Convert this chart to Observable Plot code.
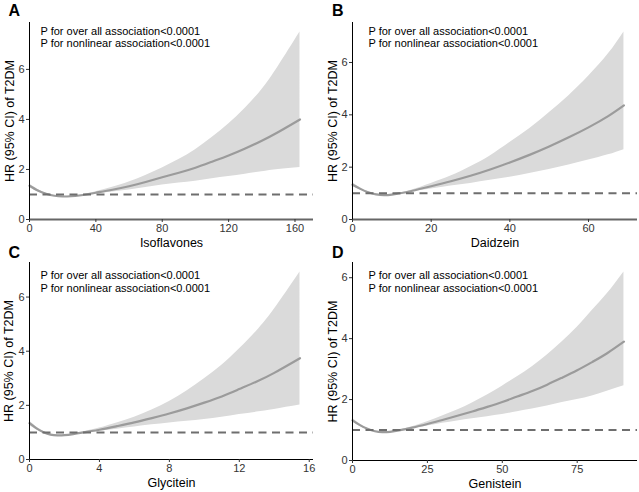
<!DOCTYPE html>
<html>
<head>
<meta charset="utf-8">
<script src="https://cdn.jsdelivr.net/npm/d3@7"></script>
<script src="https://cdn.jsdelivr.net/npm/@observablehq/plot@0.6"></script>
<style>
  html, body { margin: 0; padding: 0; background: #fff; }
  #fig { position: relative; width: 639px; height: 492px; background: #fff; overflow: hidden; }
  .panel { position: absolute; }
  .panel svg { overflow: visible; }
</style>
</head>
<body>
<div id="fig"></div>
<script>
// Restricted cubic spline estimates: HR of T2DM with 95% CI by intake

const yTitle = "HR (95% CI) of T2DM";
const pOverall = "P for over all association<0.0001";
const pNonlinear = "P for nonlinear association<0.0001";
const yTicks = [0, 2, 4, 6];

// A — Isoflavones
const isoX  = [0, 5, 10, 15, 20, 25, 30, 35, 40, 50, 60, 70, 80, 90, 100, 110, 120, 130, 140, 150, 163];
const isoHR = [1.35, 1.16, 1.03, 0.95, 0.92, 0.93, 0.96, 1.01, 1.07, 1.19, 1.33, 1.50, 1.69, 1.87, 2.07, 2.31, 2.56, 2.84, 3.15, 3.50, 4.00];
const isoLo = [1.28, 1.11, 1.01, 0.94, 0.91, 0.92, 0.95, 0.99, 1.03, 1.10, 1.18, 1.28, 1.38, 1.46, 1.53, 1.63, 1.72, 1.81, 1.91, 2.00, 2.08];
const isoHi = [1.42, 1.21, 1.05, 0.96, 0.93, 0.94, 0.97, 1.03, 1.11, 1.29, 1.50, 1.76, 2.06, 2.40, 2.79, 3.28, 3.82, 4.45, 5.19, 6.13, 7.50];
const isoTicks = [0, 40, 80, 120, 160];

// B — Daidzein
const daiX  = [0, 2, 4, 6, 8, 10, 12, 15, 20, 25, 30, 35, 40, 45, 50, 55, 60, 65, 69];
const daiHR = [1.33, 1.17, 1.04, 0.96, 0.93, 0.95, 1.00, 1.09, 1.27, 1.46, 1.67, 1.91, 2.18, 2.47, 2.79, 3.14, 3.52, 3.95, 4.36];
const daiLo = [1.27, 1.13, 1.02, 0.95, 0.92, 0.94, 0.99, 1.06, 1.17, 1.28, 1.38, 1.50, 1.61, 1.76, 1.91, 2.08, 2.27, 2.47, 2.67];
const daiHi = [1.40, 1.21, 1.06, 0.97, 0.94, 0.96, 1.01, 1.12, 1.38, 1.66, 2.02, 2.43, 2.94, 3.47, 4.08, 4.73, 5.47, 6.32, 7.17];
const daiTicks = [0, 20, 40, 60];

// C — Glycitein
const glyX  = [0, 0.4, 0.8, 1.2, 1.6, 2, 2.5, 3, 4, 5, 6, 7, 8, 9, 10, 11, 12, 13, 14, 15.47];
const glyHR = [1.34, 1.15, 1.01, 0.92, 0.89, 0.90, 0.94, 0.99, 1.10, 1.23, 1.37, 1.53, 1.70, 1.89, 2.10, 2.33, 2.60, 2.88, 3.20, 3.74];
const glyLo = [1.26, 1.10, 0.99, 0.91, 0.885, 0.895, 0.93, 0.97, 1.05, 1.12, 1.20, 1.28, 1.35, 1.41, 1.48, 1.56, 1.66, 1.75, 1.85, 2.01];
const glyHi = [1.42, 1.20, 1.04, 0.93, 0.895, 0.905, 0.95, 1.01, 1.16, 1.35, 1.56, 1.83, 2.14, 2.53, 2.98, 3.48, 4.08, 4.75, 5.55, 6.93];
const glyTicks = [0, 4, 8, 12, 16];

// D — Genistein
const genX  = [0, 2.5, 5, 7.5, 10, 12.5, 15, 20, 25, 30, 35, 40, 45, 50, 55, 60, 65, 70, 75, 80, 85, 90.6];
const genHR = [1.32, 1.16, 1.04, 0.96, 0.93, 0.94, 0.98, 1.08, 1.20, 1.33, 1.47, 1.61, 1.76, 1.92, 2.10, 2.28, 2.49, 2.72, 2.96, 3.23, 3.52, 3.90];
const genLo = [1.26, 1.12, 1.02, 0.95, 0.925, 0.935, 0.97, 1.05, 1.13, 1.22, 1.30, 1.37, 1.44, 1.51, 1.60, 1.69, 1.79, 1.90, 2.00, 2.12, 2.27, 2.45];
const genHi = [1.39, 1.20, 1.06, 0.97, 0.935, 0.945, 0.99, 1.11, 1.27, 1.46, 1.66, 1.89, 2.15, 2.44, 2.75, 3.08, 3.46, 3.90, 4.37, 4.92, 5.47, 6.19];
const genTicks = [0, 25, 50, 75];

const font = "'Liberation Sans', Arial, Helvetica, sans-serif";
const intFmt = d3.format("d");

function rowsOf(xs, hr, lo, hi) {
  return xs.map((x, i) => ({x, hr: hr[i], lo: lo[i], hi: hi[i]}));
}

function panel(cfg) {
  const rows = rowsOf(cfg.x, cfg.hr, cfg.lo, cfg.hi);
  const xMax = cfg.x[cfg.x.length - 1] * 1.05;
  const yMax = d3.max(cfg.hi) * 1.05;
  const plot = Plot.plot({
    width: cfg.width,
    height: 246,
    marginLeft: cfg.ml,
    marginRight: cfg.mr,
    marginTop: cfg.mt,
    marginBottom: cfg.mb,
    style: {fontFamily: font, background: "transparent", color: "#000", overflow: "visible"},
    x: {domain: [0, xMax], label: null},
    y: {domain: [0, yMax], label: null},
    marks: [
      Plot.areaY(rows, {x: "x", y1: "lo", y2: "hi", fill: "#dadada", curve: "natural"}),
      Plot.line(rows, {x: "x", y: "hr", stroke: "#9b9b9b", strokeWidth: 2.2, curve: "natural"}),
      Plot.ruleY([1], {stroke: "#6e6e6e", strokeWidth: 2, strokeDasharray: "8,5.5"}),
      Plot.ruleY([0], {stroke: cfg.xAxisColor, strokeWidth: cfg.xAxisWidth}),
      Plot.ruleX([0], {stroke: "#000", strokeWidth: 1}),
      Plot.axisX({ticks: cfg.ticks, tickFormat: intFmt, tickSize: 3, tickPadding: 2, fontSize: 11, color: "#333", label: null}),
      Plot.axisY({ticks: yTicks, tickFormat: intFmt, tickSize: 3, tickPadding: 2, fontSize: 11, color: "#333", label: null}),
      Plot.text([cfg.letter], {frameAnchor: "top-left", textAnchor: "start", lineAnchor: "bottom",
        dx: cfg.letterDx, dy: cfg.letterDy, fontSize: 16, fontWeight: "bold", fill: "#000"}),
      Plot.text([yTitle], {frameAnchor: "left", textAnchor: "middle", lineAnchor: "middle",
        rotate: -90, dx: cfg.yTitleDx, fontSize: 12.5, fill: "#000"}),
      Plot.text([cfg.name], {frameAnchor: "bottom", textAnchor: "middle", lineAnchor: "middle",
        dy: 23.5, fontSize: 12.5, fill: "#000"}),
      Plot.text([pOverall], {frameAnchor: "top-left", textAnchor: "start", lineAnchor: "middle",
        dx: cfg.pDx, dy: cfg.pDy1, fontSize: 11, fill: "#000"}),
      Plot.text([pNonlinear], {frameAnchor: "top-left", textAnchor: "start", lineAnchor: "middle",
        dx: cfg.pDx, dy: cfg.pDy2, fontSize: 11, fill: "#000"})
    ]
  });
  const wrap = document.createElement("div");
  wrap.className = "panel";
  wrap.style.left = cfg.left + "px";
  wrap.style.top = cfg.top + "px";
  wrap.appendChild(plot);
  document.getElementById("fig").appendChild(wrap);
}

panel({letter: "A", name: "Isoflavones", x: isoX, hr: isoHR, lo: isoLo, hi: isoHi, ticks: isoTicks,
  left: 0, top: 0, width: 320, ml: 29, mr: 7, mt: 22, mb: 27,
  xAxisColor: "#666", xAxisWidth: 2, letterDx: -21, letterDy: -7, yTitleDx: -20,
  pDx: 11, pDy1: 8.7, pDy2: 20.7});

panel({letter: "B", name: "Daidzein", x: daiX, hr: daiHR, lo: daiLo, hi: daiHi, ticks: daiTicks,
  left: 320, top: 0, width: 319, ml: 32, mr: 2, mt: 22, mb: 27,
  xAxisColor: "#666", xAxisWidth: 2, letterDx: -20.5, letterDy: -7, yTitleDx: -19.5,
  pDx: 16, pDy1: 8.7, pDy2: 20.7});

panel({letter: "C", name: "Glycitein", x: glyX, hr: glyHR, lo: glyLo, hi: glyHi, ticks: glyTicks,
  left: 0, top: 246, width: 320, ml: 29, mr: 7, mt: 16, mb: 33,
  xAxisColor: "#000", xAxisWidth: 1, letterDx: -21, letterDy: -5, yTitleDx: -20.3,
  pDx: 11, pDy1: 12.6, pDy2: 26});

panel({letter: "D", name: "Genistein", x: genX, hr: genHR, lo: genLo, hi: genHi, ticks: genTicks,
  left: 320, top: 246, width: 319, ml: 32, mr: 2, mt: 16, mb: 32,
  xAxisColor: "#000", xAxisWidth: 1, letterDx: -20.5, letterDy: -5, yTitleDx: -19.5,
  pDx: 16, pDy1: 12.6, pDy2: 26});
</script>
</body>
</html>
